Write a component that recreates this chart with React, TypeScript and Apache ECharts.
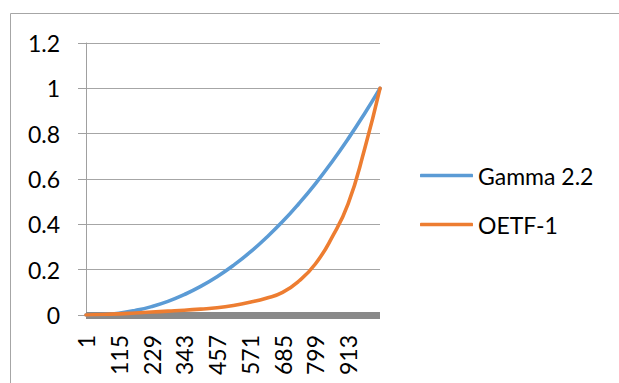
import React, { useEffect, useRef } from "react";
import * as echarts from "echarts";

// Code values sampled along the x axis
const codeValues = [1, 58, 115, 172, 229, 286, 343, 400, 457, 514, 571, 628, 685, 742, 799, 856, 913, 970, 1024];

// Normalised output for each transfer curve
const gamma22 = [0, 0.002, 0.008, 0.02, 0.037, 0.06, 0.09, 0.126, 0.169, 0.219, 0.276, 0.341, 0.412, 0.492, 0.579, 0.674, 0.777, 0.888, 1];
const oetfInverse = [0, 0.002, 0.005, 0.009, 0.013, 0.017, 0.021, 0.026, 0.032, 0.042, 0.056, 0.074, 0.1, 0.15, 0.225, 0.34, 0.49, 0.73, 1];

// Tick labels shown on the category axis
const xTickLabels = [1, 115, 229, 343, 457, 571, 685, 799, 913];

const seriesNames = ["Gamma 2.2", "OETF-1"];
const seriesColors = ["#5B9BD5", "#ED7D31"];

const FONT = "Lato, 'Noto Sans', sans-serif";
const FONT_SIZE = 23;

export default function App() {
  const ref = useRef<HTMLDivElement>(null);

  useEffect(() => {
    if (!ref.current) return;
    const chart = echarts.init(ref.current, undefined, { renderer: "svg" });
    const seriesData = [gamma22, oetfInverse];

    chart.setOption({
      animation: false,
      backgroundColor: "#fff",
      textStyle: { fontFamily: FONT, color: "#000" },
      graphic: [
        {
          type: "rect",
          silent: true,
          shape: { x: 10.5, y: 13.5, width: 700, height: 500 },
          style: { fill: "none", stroke: "#a6a6a6", lineWidth: 1 },
        },
      ],
      grid: { left: 86, top: 43, right: 239, bottom: 68, containLabel: false },
      legend: {
        orient: "vertical",
        left: 415,
        top: 159,
        icon: "roundRect",
        itemWidth: 53,
        itemHeight: 3.5,
        itemGap: 26,
        data: seriesNames,
        textStyle: { fontFamily: FONT, fontSize: FONT_SIZE, color: "#000", lineHeight: 23 },
      },
      xAxis: {
        type: "value",
        min: 1,
        max: 1024,
        offset: 4,
        axisLine: { show: true, lineStyle: { color: "#898989", width: 7, cap: "butt" } },
        axisTick: { show: false },
        splitLine: { show: false },
        axisLabel: {
          customValues: xTickLabels,
          rotate: 90,
          margin: 16,
          fontSize: FONT_SIZE,
          fontFamily: FONT,
          color: "#000",
          showMinLabel: true,
          showMaxLabel: true,
          hideOverlap: false,
        },
      },
      yAxis: {
        type: "value",
        min: 0,
        max: 1.2,
        interval: 0.2,
        axisLine: { show: true, lineStyle: { color: "#a0a0a0", width: 1 } },
        axisTick: { show: true, length: 8, lineStyle: { color: "#a0a0a0" } },
        splitLine: { show: true, lineStyle: { color: "#a6a6a6", width: 1 } },
        axisLabel: {
          margin: 26,
          fontSize: FONT_SIZE,
          fontFamily: FONT,
          color: "#000",
          formatter: (v: number) => String(Math.round(v * 10) / 10),
        },
      },
      series: seriesNames.map((name, i) => ({
        name,
        type: "line",
        symbol: "none",
        smooth: true,
        color: seriesColors[i],
        itemStyle: { color: seriesColors[i] },
        lineStyle: { width: 3.6, color: seriesColors[i], cap: "round", join: "round" },
        data: codeValues.map((x, j) => [x, seriesData[i][j]]),
      })),
    });

    return () => chart.dispose();
  }, []);

  return (
    <div
      ref={ref}
      style={{ position: "fixed", left: 0, top: 0, width: 619, height: 383 }}
    />
  );
}
